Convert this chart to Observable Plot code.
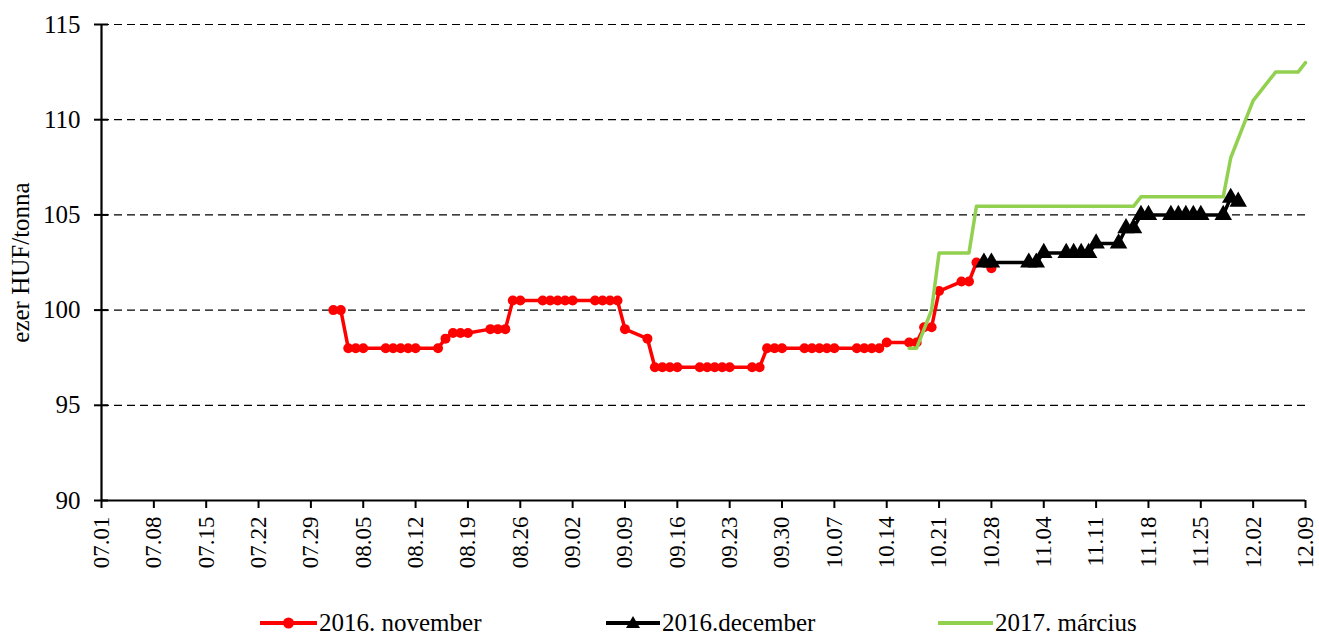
<!DOCTYPE html>
<html>
<head>
<meta charset="utf-8">
<script src="https://cdn.jsdelivr.net/npm/d3@7"></script>
<script src="https://cdn.jsdelivr.net/npm/@observablehq/plot@0.6"></script>
<style>
  body { margin: 0; background: #fff; font-family: 'Liberation Serif', 'Times New Roman', serif; }
  #wrap { position: relative; width: 1319px; height: 637px; overflow: hidden; }
  #chart svg, #chart svg text, #chart svg g { font-family: 'Liberation Serif', 'Times New Roman', serif !important; }
  #legend { position: relative; width: 1319px; height: 37px; font-size: 25px; color: #000; font-family: 'Liberation Serif', 'Times New Roman', serif; }
  .item { position: absolute; top: 8px; display: flex; align-items: center; height: 30px; white-space: nowrap; }
  .item svg { margin-right: 2px; }
</style>
</head>
<body>
<div id="wrap">
  <div id="chart"></div>
  <div id="legend"></div>
</div>
<script>
// ---- data ----
const year = 2016;
const xTickLabels = ["07.01","07.08","07.15","07.22","07.29","08.05","08.12","08.19","08.26","09.02","09.09","09.16","09.23","09.30","10.07","10.14","10.21","10.28","11.04","11.11","11.18","11.25","12.02","12.09"];
const yTicks = [90, 95, 100, 105, 110, 115];
const yLabel = "ezer HUF/tonna";
const seriesNames = ["2016. november", "2016.december", "2017. március"];

const novDates = ["08-01","08-02","08-03","08-04","08-05","08-08","08-09","08-10","08-11","08-12",
  "08-15","08-16","08-17","08-18","08-19","08-22","08-23","08-24","08-25","08-26",
  "08-29","08-30","08-31","09-01","09-02","09-05","09-06","09-07","09-08","09-09",
  "09-12","09-13","09-14","09-15","09-16","09-19","09-20","09-21","09-22","09-23",
  "09-26","09-27","09-28","09-29","09-30","10-03","10-04","10-05","10-06","10-07",
  "10-10","10-11","10-12","10-13","10-14","10-17","10-18","10-19","10-20","10-21",
  "10-24","10-25","10-26","10-27","10-28"];
const novValues = [100,100,98,98,98,98,98,98,98,98,
  98,98.5,98.8,98.8,98.8,99,99,99,100.5,100.5,
  100.5,100.5,100.5,100.5,100.5,100.5,100.5,100.5,100.5,99,
  98.5,97,97,97,97,97,97,97,97,97,
  97,97,98,98,98,98,98,98,98,98,
  98,98,98,98,98.3,98.3,98.3,99.1,99.1,101,
  101.5,101.5,102.5,102.5,102.2];

const decDates = ["10-27","10-28","11-02","11-03","11-04","11-07","11-08","11-09","11-10","11-11",
  "11-14","11-15","11-16","11-17","11-18","11-21","11-22","11-23","11-24","11-25",
  "11-28","11-29","11-30"];
const decValues = [102.5,102.5,102.5,102.5,103,103,103,103,103,103.5,
  103.5,104.3,104.3,105,105,105,105,105,105,105,
  105,105.9,105.7];

const marDates = ["10-17","10-18","10-19","10-20","10-21","10-24","10-25","10-26","10-27","10-28",
  "11-02","11-03","11-04","11-07","11-08","11-09","11-10","11-11","11-14","11-15",
  "11-16","11-17","11-18","11-21","11-22","11-23","11-24","11-25","11-28","11-29",
  "11-30","12-01","12-02","12-05","12-06","12-07","12-08","12-09"];
const marValues = [98,98,99,100,103,103,103,105.45,105.45,105.45,
  105.45,105.45,105.45,105.45,105.45,105.45,105.45,105.45,105.45,105.45,
  105.45,105.95,105.95,105.95,105.95,105.95,105.95,105.95,105.95,108,
  109,110,111,112.5,112.5,112.5,112.5,113];

// ---- build tables ----
const toDate = (md) => { const [m, d] = md.split(/[-.]/).map(Number); return new Date(Date.UTC(year, m - 1, d)); };
const nov = novDates.map((d, i) => ({date: toDate(d), value: novValues[i]}));
const dec = decDates.map((d, i) => ({date: toDate(d), value: decValues[i]}));
const mar = marDates.map((d, i) => ({date: toDate(d), value: marValues[i]}));
const xTicks = xTickLabels.map(toDate);
const fmt = d3.utcFormat("%m.%d");

const colors = ["#FF0000", "#000000", "#92D050"];
const serif = "Liberation Serif, Times New Roman, serif";

const chart = Plot.plot({
  width: 1319,
  height: 600,
  marginLeft: 101,
  marginRight: 14,
  marginTop: 24,
  marginBottom: 100,
  style: {fontFamily: serif, fontSize: "24px", color: "#000", background: "#fff"},
  x: {type: "utc", domain: [xTicks[0], xTicks[xTicks.length - 1]]},
  y: {domain: [90, 115]},
  marks: [
    Plot.ruleY(yTicks.filter(v => v > 90), {stroke: "#000", strokeWidth: 1.2, strokeDasharray: "8,5"}),
    Plot.ruleY([90], {stroke: "#000", strokeWidth: 2.2}),
    Plot.ruleX([xTicks[0]], {stroke: "#000", strokeWidth: 2.2}),
    Plot.axisY({ticks: yTicks, tickSize: 7, tickPadding: 14, fontSize: 25, fontFamily: serif, strokeWidth: 2,
      label: yLabel, labelAnchor: "center", labelArrow: "none", labelOffset: 90}),
    Plot.axisY({ticks: yTicks, tickSize: -7, tickFormat: () => "", strokeWidth: 2, label: null}),
    Plot.axisX({ticks: xTicks, tickFormat: fmt, tickRotate: -90, tickSize: 8, tickPadding: 8, fontSize: 23, fontFamily: serif, strokeWidth: 2, label: null}),
    Plot.line(nov, {x: "date", y: "value", stroke: colors[0], strokeWidth: 3.5}),
    Plot.dot(nov, {x: "date", y: "value", r: 5, fill: colors[0], stroke: "none"}),
    Plot.line(dec, {x: "date", y: "value", stroke: colors[1], strokeWidth: 3.5}),
    Plot.dot(dec, {x: "date", y: "value", r: 6.5, symbol: "triangle", fill: colors[1], stroke: "none"}),
    Plot.line(mar, {x: "date", y: "value", stroke: colors[2], strokeWidth: 3.5})
  ]
});
document.getElementById("chart").appendChild(chart);

// ---- legend ----
const legend = document.getElementById("legend");
const legendLeft = [260, 606, 938];
const swatchW = [57, 54, 55];
seriesNames.forEach((name, i) => {
  const item = document.createElement("div");
  item.className = "item";
  item.style.left = legendLeft[i] + "px";
  const w = swatchW[i];
  let marker = "";
  if (i === 0) marker = `<circle cx="${w/2}" cy="15" r="5.5" fill="${colors[0]}"/>`;
  if (i === 1) marker = `<path d="M${w/2},8 L${w/2+7},20 L${w/2-7},20 Z" fill="${colors[1]}"/>`;
  item.innerHTML = `<svg width="${w}" height="30"><line x1="0" x2="${w}" y1="15" y2="15" stroke="${colors[i]}" stroke-width="4"/>${marker}</svg><span>${name}</span>`;
  legend.appendChild(item);
});
</script>
</body>
</html>
